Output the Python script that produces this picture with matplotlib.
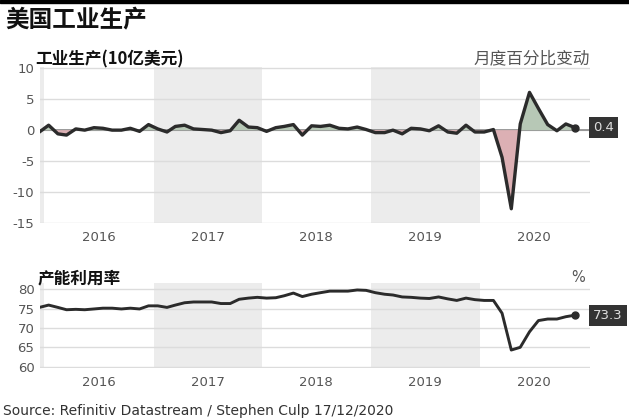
import pandas as pd
import numpy as np
import matplotlib
matplotlib.use("Agg")
import matplotlib.pyplot as plt
import matplotlib.transforms as mtransforms
from matplotlib.patches import Rectangle

plt.rcParams['font.family'] = ['DejaVu Sans', 'Noto Sans CJK SC']
plt.rcParams['axes.unicode_minus'] = False
CJK = ['Noto Sans CJK SC', 'DejaVu Sans']

# monthly data, Dec 2015 .. Nov 2020
months = pd.date_range('2015-12-01', periods=60, freq='MS') + pd.Timedelta(days=14)

ip_change = [-0.3,
             0.8, -0.6, -0.8, 0.2, 0.0, 0.4, 0.3, 0.0, 0.0, 0.3, -0.2, 0.9,
             0.2, -0.3, 0.6, 0.8, 0.2, 0.1, 0.0, -0.4, -0.1, 1.6, 0.5, 0.4,
             -0.2, 0.4, 0.6, 0.9, -0.8, 0.7, 0.6, 0.8, 0.3, 0.2, 0.5, 0.1,
             -0.4, -0.4, 0.0, -0.6, 0.3, 0.2, -0.1, 0.7, -0.3, -0.5, 0.8, -0.3,
             -0.3, 0.1, -4.4, -12.7, 1.0, 6.1, 3.5, 0.9, -0.1, 1.0, 0.4]

cap_util = [75.3,
            75.9, 75.3, 74.7, 74.8, 74.7, 74.9, 75.1, 75.1, 74.9, 75.1, 74.9, 75.7,
            75.7, 75.3, 75.9, 76.5, 76.7, 76.7, 76.7, 76.3, 76.3, 77.4, 77.7, 77.9,
            77.7, 77.8, 78.3, 79.0, 78.1, 78.7, 79.1, 79.5, 79.5, 79.5, 79.8, 79.7,
            79.1, 78.7, 78.5, 78.0, 77.9, 77.7, 77.6, 78.0, 77.5, 77.1, 77.7, 77.3,
            77.1, 77.1, 73.8, 64.3, 65.0, 69.0, 71.9, 72.3, 72.3, 72.9, 73.3]

years = [2016, 2017, 2018, 2019, 2020]
shaded_years = [2015, 2017, 2019]

LINE = '#2b2b2b'
TICK = '#555555'


def setup_axes(ax, ylim, yticks):
    for sp in ax.spines.values():
        sp.set_visible(False)
    for y in shaded_years:
        ax.axvspan(pd.Timestamp(f'{y}-01-01'), pd.Timestamp(f'{y + 1}-01-01'),
                   color='#ececec', lw=0, zorder=0)
    ax.set_xlim(pd.Timestamp('2015-12-17'), pd.Timestamp('2021-01-04'))
    ax.set_ylim(*ylim)
    ax.set_yticks(yticks)
    ax.grid(axis='y', color='#dcdcdc', lw=1, zorder=1)
    ax.set_xticks([pd.Timestamp(f'{y}-07-01') for y in years])
    ax.set_xticklabels([str(y) for y in years])
    ax.tick_params(axis='both', length=0, labelsize=9.5, labelcolor=TICK)
    ax.tick_params(axis='x', pad=6)
    ax.tick_params(axis='y', pad=4)


def end_label(ax, value, text):
    trans = mtransforms.blended_transform_factory(ax.transAxes, ax.transData)
    ax.text(1.006, value, text, transform=trans, ha='left', va='center',
            fontsize=9.5, color='#dddddd',
            bbox=dict(boxstyle='square,pad=0.3', fc='#333333', ec='none'))


fig = plt.figure(figsize=(6.29, 4.2), dpi=100)
fig.patches.append(Rectangle((0, 1 - 3 / 420), 1, 3 / 420, transform=fig.transFigure,
                             color='black', zorder=5))

# top chart: monthly % change
ax1 = fig.add_axes([40 / 629, 1 - 223 / 420, 550 / 629, 156 / 420])
setup_axes(ax1, (-15, 10.2), [-15, -10, -5, 0, 5, 10])
ip = np.array(ip_change)
ax1.axhline(0, color='#8a8a8a', lw=1.2, zorder=2)
ax1.fill_between(months, ip, 0, where=ip >= 0, interpolate=True, color='#b7c8b6', lw=0, zorder=2)
ax1.fill_between(months, ip, 0, where=ip <= 0, interpolate=True, color='#dcb0b4', lw=0, zorder=2)
ax1.plot(months, ip, color=LINE, lw=2.4, zorder=3, solid_joinstyle='round')
ax1.plot(months[-1:], ip[-1:], 'o', color=LINE, ms=5, zorder=4)
end_label(ax1, ip[-1], f'{ip[-1]:.1f}')

# bottom chart: capacity utilisation
ax2 = fig.add_axes([40 / 629, 1 - 368 / 420, 550 / 629, 85 / 420])
setup_axes(ax2, (59.66, 81.6), [60, 65, 70, 75, 80])
ax2.plot(months, cap_util, color=LINE, lw=2.1, zorder=3)
ax2.plot(months[-1:], cap_util[-1:], 'o', color=LINE, ms=5, zorder=4)
end_label(ax2, cap_util[-1], f'{cap_util[-1]:.1f}')

# texts
fig.text(5 / 629, 1 - 20 / 420, '美国工业生产', family=CJK, fontsize=17, fontweight='bold',
         va='center', ha='left', color='#111111')
fig.text(35 / 629, 1 - 59 / 420, '工业生产(10亿美元)', family=CJK, fontsize=12, fontweight='bold',
         va='center', ha='left', color='#111111')
fig.text(590 / 629, 1 - 59 / 420, '月度百分比变动', family=CJK, fontsize=12,
         va='center', ha='right', color=TICK)
fig.text(38 / 629, 1 - 278 / 420, '产能利用率', family=CJK, fontsize=12, fontweight='bold',
         va='center', ha='left', color='#111111')
fig.text(585 / 629, 1 - 278 / 420, '%', fontsize=10.5, va='center', ha='right', color=TICK)
fig.text(3 / 629, 1 - 411 / 420, 'Source: Refinitiv Datastream / Stephen Culp 17/12/2020',
         fontsize=10, va='center', ha='left', color='#333333')

fig.savefig('out.png', dpi=100)
